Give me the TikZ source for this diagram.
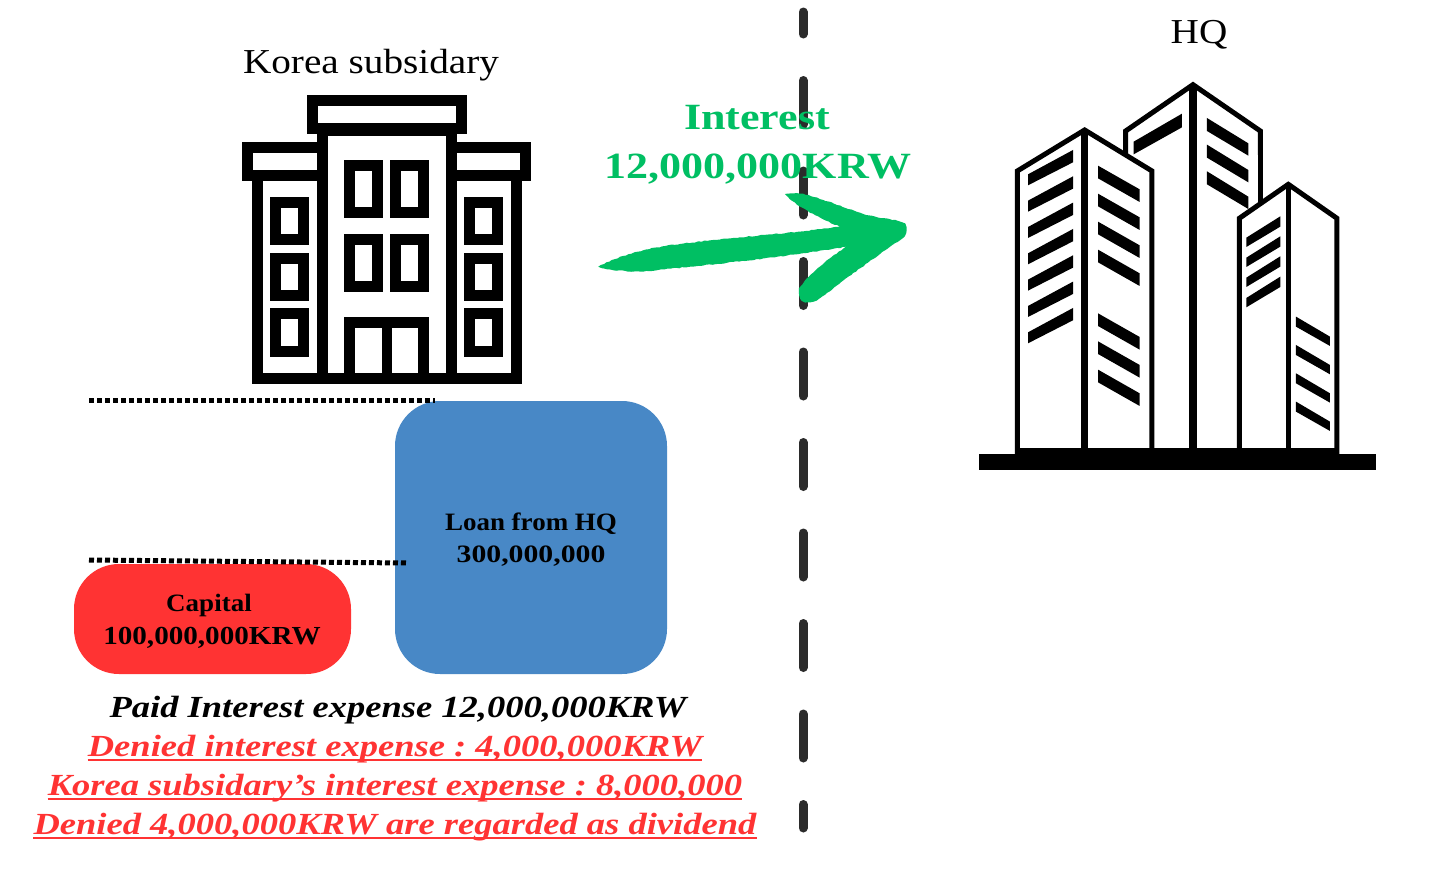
\documentclass[tikz,border=0pt]{standalone}
\usepackage{fontspec}
\setmainfont[FakeStretch=1.12]{Liberation Serif}
\newfontfamily\wideface[FakeStretch=1.19]{Liberation Serif}
\newfontfamily\slimface[FakeStretch=1.08]{Liberation Serif}
\usetikzlibrary{decorations.pathmorphing}
\definecolor{krwgreen}{HTML}{00BF63}
\definecolor{loanblue}{HTML}{4888C6}
\definecolor{capred}{HTML}{FF3333}
\definecolor{fencegray}{HTML}{2B2B2B}
\frenchspacing
\begin{document}
\begin{tikzpicture}[
  x=1pt, y=-1pt,
  office/.style={draw=black, line width=11pt, fill=white, miter limit=10},
  tower/.style={draw=black, line width=5pt, fill=white, miter limit=10},
  spine/.style={draw=black, line width=7.5pt},
  band/.style={fill=black},
  title/.style={font=\fontsize{35}{35}\selectfont, anchor=base},
  money/.style={font=\fontsize{25}{25}\selectfont\bfseries, anchor=base},
  green/.style={font=\wideface\fontsize{37}{37}\selectfont\bfseries, text=krwgreen, anchor=base},
  note/.style={font=\wideface\fontsize{30.7}{31}\selectfont\bfseries\itshape, anchor=base, inner xsep=0pt},
  denied/.style={note, text=capred},
  rule/.style={capred, line width=2.5pt},
]
\useasboundingbox (0,0) rectangle (1448,881);
\fill[white] (0,0) rectangle (1448,881);

% border between the two countries
\coordinate (fencetop) at (803,12);
\coordinate (fencebot) at (803,828);
\draw[fencegray, line width=9pt, line cap=round, dash pattern=on 44pt off 46.5pt, dash phase=22pt] (fencetop) -- (fencebot);

% Korea building
\draw[office] (257,175) rectangle (516.5,378.8);
\draw[office] (322,130) rectangle (451.5,378.8);
\draw[office] (247.8,147.2) rectangle (322,175.2);
\draw[office] (451.5,147.2) rectangle (525.8,175.2);
\draw[office] (312.8,100.7) rectangle (461.2,128.8);
\foreach \x in {349.5,395.8}
  \foreach \y in {165.5,239.5}
    \draw[office, fill=white] (\x,\y) rectangle ++(28,46.7);
\foreach \x in {275.5,469.8}
  \foreach \y in {202.5,258.2,313.8}
    \draw[office, fill=white] (\x,\y) rectangle ++(28,37.3);
\draw[office, fill=none] (349.5,378.8) -- (349.5,322.8) -- (423.8,322.8) -- (423.8,378.8);
\draw[office, fill=none, line width=10pt] (386.7,322.8) -- (386.7,378.8);

% HQ building
\begin{scope}[shift={(970,75)}, x=0.3333pt, y=-0.3333pt]
  \draw[tower] (467,1138) -- (467,168) -- (669,29) -- (871,168) -- (871,1138);
  \fill[white] (467,240) rectangle (864,1118);
  \draw[spine] (669,29) -- (669,1138);
  \fill[band] (491,200) -- (636,116) -- (636,157) -- (491,238) -- cycle;
  \foreach \d in {0,80,160}
    \fill[band] (711,129+\d) -- (835,205+\d) -- (835,242+\d) -- (711,168+\d) -- cycle;
  \draw[tower] (142,1138) -- (142,288) -- (344,165) -- (546,288) -- (546,1138);
  \draw[spine] (344,165) -- (344,1138);
  \foreach \d in {0,79,158,237,316,395,474}
    \fill[band] (174,298+\d) -- (309,225+\d) -- (309,262+\d) -- (174,331+\d) -- cycle;
  \foreach \d in {0,84,168,252,443,527,612}
    \fill[band] (384,272+\d) -- (509,343+\d) -- (509,381+\d) -- (384,310+\d) -- cycle;
  \draw[tower] (808,1138) -- (808,430) -- (955,328) -- (1101,430) -- (1101,1138);
  \draw[draw=black, line width=5pt] (955,328) -- (955,1138);
  \foreach \d in {0,60,120,181}
    \fill[band] (829,488+\d) -- (931,424+\d) -- (931,455+\d) -- (829,516+\d) -- cycle;
  \foreach \d in {0,85,170,255}
    \fill[band] (978,725+\d) -- (1080,785+\d) -- (1080,813+\d) -- (978,755+\d) -- cycle;
  \fill[band] (135,1118) rectangle (1108,1140);
  \fill[band] (26,1138) rectangle (1217,1186);
\end{scope}

% green arrow
\begin{scope}[shift={(590,90)}, x=0.3333pt, y=-0.3333pt]
  \fill[krwgreen, decorate, decoration={random steps, segment length=3pt, amplitude=0.5pt}]
    (25,530) .. controls (70,505) and (130,487) .. (200,472)
    .. controls (350,447) and (550,437) .. (750,410)
    .. controls (690,385) and (620,350) .. (585,312)
    .. controls (640,298) and (720,340) .. (820,372)
    .. controls (880,388) and (930,388) .. (945,402)
    .. controls (952,420) and (950,435) .. (930,450)
    .. controls (860,497) and (770,565) .. (680,632)
    .. controls (650,645) and (622,635) .. (628,595)
    .. controls (660,550) and (710,510) .. (768,470)
    .. controls (600,500) and (350,525) .. (160,545)
    .. controls (100,545) and (50,540) .. (25,530) -- cycle;
\end{scope}

\node[title] (korea) at (371,73) {Korea subsidary};
\node[title] (hq) at (1199,43) {HQ};
\node[green] (interest) at (757,129) {Interest};
\node[green] (amount) at (758,178) {12,000,000KRW};

\node[fill=loanblue, rounded corners=45pt, minimum width=272pt, minimum height=273pt, inner sep=0pt] (loan) at (531,537.5) {};
\node[fill=capred, rounded corners=45pt, minimum width=277pt, minimum height=110pt, inner sep=0pt] (capital) at (212.5,619) {};
\node[money] (loanname) at (531,530) {\slimface Loan from HQ};
\node[money] (loanval) at (531,562) {\wideface 300,000,000};
\node[money] (capname) at (209,611) {\slimface Capital};
\node[money, font=\fontsize{26}{26}\selectfont\bfseries] (capval) at (212,644) {100,000,000KRW};

\coordinate (dotsa) at (89,400);
\coordinate (dotsb) at (435,400);
\coordinate (dotsc) at (89,560);
\coordinate (dotsd) at (407,563);
\draw[line width=5pt, dash pattern=on 5pt off 3pt] (dotsa) -- (dotsb);
\draw[line width=5pt, dash pattern=on 5pt off 3pt] (dotsc) -- (dotsd);

\node[note] (paid) at (398,717) {Paid Interest expense 12,000,000KRW};
\node[denied] (deny) at (395,756) {Denied interest expense : 4,000,000KRW};
\node[denied] (own) at (395,795) {Korea subsidary’s interest expense : 8,000,000};
\node[denied] (div) at (395,834) {Denied 4,000,000KRW are regarded as dividend};
\draw[rule] ([yshift=-4pt]deny.base west) -- ([yshift=-4pt]deny.base east);
\draw[rule] ([yshift=-4pt]own.base west) -- ([yshift=-4pt]own.base east);
\draw[rule] ([yshift=-4pt]div.base west) -- ([yshift=-4pt]div.base east);
\end{tikzpicture}
\end{document}
